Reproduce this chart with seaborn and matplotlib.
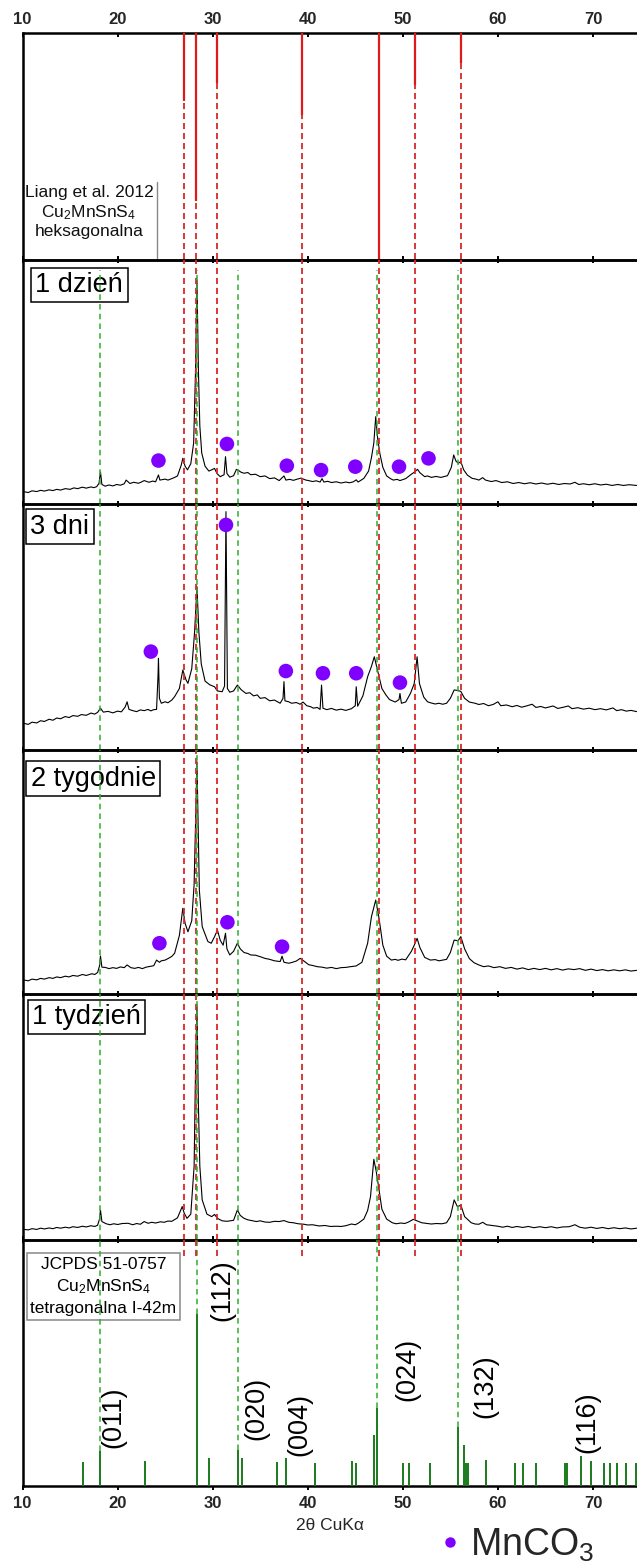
import matplotlib
matplotlib.use("Agg")
import matplotlib.pyplot as plt
import pandas as pd
import seaborn as sns
from matplotlib.lines import Line2D

sns.set_theme(style="white")
plt.rcParams["font.family"] = ["Liberation Sans", "DejaVu Sans"]
plt.rcParams["mathtext.fontset"] = "custom"
plt.rcParams["mathtext.rm"] = "Liberation Sans"
plt.rcParams["mathtext.it"] = "Liberation Sans:italic"
plt.rcParams["mathtext.bf"] = "Liberation Sans:bold"
plt.rcParams["lines.scale_dashes"] = False

# ---------------------------------------------------------------- data
# Reference: Liang et al. 2012, hexagonal Cu2MnSnS4 (2theta, relative intensity)
hex_pos = [26.95, 28.25, 30.5, 39.4, 47.5, 51.3, 56.15]
hex_int = [30, 74, 22, 36, 100, 23, 13]

# Measured patterns: (2theta, intensity in panel units 0-100)
day1 = [(10.2, 5.0), (10.6, 4.7), (11.0, 5.4), (11.5, 5.1), (11.9, 5.6), (12.3, 5.3),
        (12.8, 5.8), (13.2, 5.5), (13.6, 6.0), (14.0, 5.7), (14.5, 6.3), (15.0, 6.0),
        (15.4, 6.6), (15.8, 6.3), (16.3, 6.9), (16.7, 6.5), (17.2, 7.0), (17.5, 6.7),
        (17.8, 7.1), (18.05, 8.5), (18.2, 13.2), (18.35, 8.0), (18.7, 7.3), (19.1, 7.8),
        (19.5, 7.4), (19.9, 8.0), (20.3, 7.7), (20.7, 8.3), (20.9, 9.8), (21.3, 8.4),
        (21.7, 8.9), (22.2, 8.5), (22.5, 9.0), (22.8, 9.6), (23.3, 8.9), (23.7, 9.4),
        (24.0, 9.1), (24.3, 11.9), (24.45, 9.8), (25.0, 10.2), (25.3, 9.8), (25.7, 10.4),
        (26.0, 10.9), (26.3, 11.5), (26.7, 16.0), (26.86, 18.7), (27.1, 15.5), (27.35, 14.0),
        (27.7, 16.5), (28.0, 25.0), (28.2, 55.0), (28.35, 91.8), (28.5, 55.0), (28.65, 32.0),
        (28.85, 20.9), (29.2, 15.5), (29.6, 13.5), (29.9, 14.0), (30.2, 14.6), (30.45, 12.5),
        (30.8, 11.2), (31.2, 12.0), (31.35, 19.4), (31.5, 12.5), (31.8, 11.0), (32.2, 11.6),
        (32.5, 14.2), (32.7, 13.8), (33.0, 13.0), (33.3, 12.6), (33.7, 12.9), (34.0, 12.0),
        (34.5, 12.2), (35.0, 11.2), (35.5, 11.5), (36.0, 10.4), (36.5, 10.7), (37.0, 9.6),
        (37.5, 11.5), (37.7, 9.8), (38.1, 10.1), (38.5, 9.7), (38.9, 10.2), (39.3, 10.6),
        (39.8, 9.8), (40.1, 9.6), (40.5, 9.2), (40.9, 9.5), (41.3, 9.0), (41.5, 10.4),
        (41.7, 9.0), (42.1, 9.3), (42.5, 8.8), (43.0, 9.1), (43.5, 8.6), (44.0, 9.0),
        (44.4, 8.7), (44.8, 9.1), (45.1, 9.9), (45.3, 9.0), (45.9, 10.5), (46.4, 13.5),
        (46.7, 19.0), (46.95, 25.0), (47.15, 35.8), (47.35, 27.0), (47.6, 20.4), (47.9, 15.0),
        (48.3, 11.5), (48.7, 10.4), (49.0, 9.8), (49.4, 10.1), (49.7, 9.6), (50.0, 10.0),
        (50.3, 10.4), (50.9, 12.2), (51.2, 13.0), (51.55, 14.2), (51.8, 12.8), (52.3, 11.2),
        (52.6, 11.5), (53.0, 10.9), (53.5, 11.3), (54.0, 10.9), (54.4, 11.3), (54.7, 11.6),
        (55.1, 15.0), (55.35, 20.1), (55.6, 17.5), (55.85, 16.7), (56.1, 17.4), (56.4, 14.0),
        (56.8, 11.8), (57.3, 10.5), (57.7, 10.2), (58.0, 9.8), (58.4, 10.8), (58.7, 9.8),
        (59.3, 9.2), (59.8, 9.6), (60.4, 8.8), (61.0, 9.1), (61.6, 8.4), (62.2, 8.8),
        (62.8, 8.3), (63.4, 8.7), (64.0, 8.2), (64.6, 8.6), (65.2, 8.1), (65.8, 8.5),
        (66.4, 8.0), (67.0, 8.4), (67.6, 8.2), (68.1, 8.9), (68.5, 8.0), (69.0, 8.3),
        (69.6, 7.9), (70.2, 8.3), (70.8, 7.8), (71.4, 8.1), (72.0, 7.6), (72.6, 8.0),
        (73.2, 7.6), (73.8, 7.9), (74.6, 7.6)]
day1_dots = [(24.3, 17.8), (31.5, 24.6), (37.8, 15.7), (41.4, 13.9), (45.0, 15.3),
             (49.6, 15.3), (52.7, 18.7)]

day3 = [(10.2, 10.8), (10.6, 10.4), (11.0, 11.3), (11.5, 11.0), (11.9, 11.9), (12.3, 11.6),
        (12.8, 12.5), (13.2, 12.1), (13.6, 13.0), (14.0, 12.7), (14.5, 13.6), (14.9, 13.2),
        (15.3, 14.0), (15.8, 13.7), (16.2, 14.4), (16.7, 14.1), (17.2, 15.0), (17.6, 14.6),
        (17.9, 15.3), (18.2, 17.0), (18.5, 15.4), (19.0, 15.7), (19.5, 15.1), (20.0, 15.8),
        (20.4, 15.5), (20.8, 17.5), (21.0, 19.6), (21.2, 16.5), (21.6, 16.0), (22.0, 15.6),
        (22.4, 16.3), (22.8, 16.0), (23.2, 16.5), (23.5, 15.9), (23.8, 16.4), (24.1, 16.5),
        (24.25, 30.0), (24.3, 37.3), (24.4, 21.0), (24.6, 19.0), (25.0, 19.6), (25.3, 19.2),
        (25.7, 20.3), (26.0, 21.7), (26.5, 25.0), (26.86, 32.5), (27.2, 28.5), (27.4, 27.1),
        (27.8, 33.0), (28.1, 48.0), (28.35, 66.4), (28.55, 48.0), (28.8, 35.0), (29.2, 28.0),
        (29.7, 26.5), (30.2, 25.7), (30.5, 24.0), (31.0, 23.7), (31.25, 26.0), (31.4, 96.9),
        (31.55, 25.0), (31.8, 23.5), (32.2, 24.0), (32.6, 26.4), (33.0, 24.5), (33.5, 23.0),
        (33.9, 23.3), (34.3, 22.0), (34.7, 22.4), (35.0, 21.0), (35.5, 21.3), (36.0, 20.0),
        (36.5, 20.3), (37.1, 19.0), (37.4, 21.0), (37.5, 27.8), (37.6, 20.0), (38.0, 19.6),
        (38.3, 19.0), (38.8, 19.3), (39.2, 18.6), (39.5, 19.5), (39.9, 18.0), (40.3, 17.6),
        (40.6, 17.0), (41.0, 17.3), (41.3, 16.5), (41.45, 26.4), (41.6, 17.0), (42.0, 16.4),
        (42.5, 16.9), (43.0, 16.2), (43.5, 16.6), (44.0, 16.1), (44.6, 16.8), (45.0, 18.0),
        (45.1, 25.7), (45.25, 17.8), (45.8, 22.0), (46.3, 29.8), (46.7, 34.0), (47.0, 37.9),
        (47.3, 33.0), (47.8, 25.0), (48.2, 22.5), (48.6, 20.5), (49.2, 19.5), (49.6, 20.5),
        (49.7, 23.0), (49.85, 19.0), (50.3, 19.5), (50.8, 23.0), (51.2, 27.0), (51.5, 37.9),
        (51.75, 27.0), (52.2, 21.5), (52.6, 19.6), (52.9, 19.2), (53.4, 18.7), (53.8, 19.0),
        (54.2, 18.6), (54.6, 19.0), (55.0, 21.0), (55.4, 24.4), (55.8, 24.2), (56.1, 23.8),
        (56.5, 21.0), (57.0, 19.5), (57.6, 19.0), (58.0, 18.5), (58.5, 18.9), (59.0, 18.0),
        (59.5, 18.5), (60.0, 19.6), (60.3, 18.0), (60.9, 18.3), (61.5, 17.6), (62.0, 18.1),
        (62.5, 17.4), (63.0, 17.9), (63.6, 18.6), (64.0, 17.3), (64.5, 17.7), (65.0, 17.1),
        (65.4, 17.5), (65.8, 17.9), (66.3, 16.9), (66.9, 17.4), (67.4, 17.9), (67.8, 16.8),
        (68.4, 17.2), (69.0, 16.6), (69.6, 17.0), (70.2, 16.4), (70.8, 16.8), (71.4, 16.3),
        (72.1, 17.1), (72.5, 16.0), (73.0, 16.4), (73.5, 15.8), (74.0, 16.1), (74.6, 15.6)]
day3_dots = [(23.5, 40.0), (31.4, 91.5), (37.7, 32.1), (41.6, 31.2), (45.1, 31.2),
             (49.7, 27.4)]

week2 = [(10.2, 5.7), (10.6, 5.4), (11.0, 6.1), (11.5, 5.8), (11.9, 6.4), (12.3, 6.1),
         (12.8, 6.7), (13.2, 6.4), (13.6, 7.0), (14.0, 6.7), (14.5, 7.3), (14.9, 7.0),
         (15.3, 7.6), (15.8, 7.3), (16.3, 8.0), (16.7, 7.6), (17.3, 8.3), (17.6, 8.0),
         (17.9, 8.8), (18.1, 11.5), (18.2, 15.6), (18.35, 11.0), (18.7, 10.9), (19.1, 10.4),
         (19.5, 10.8), (19.9, 10.5), (20.3, 11.1), (20.7, 10.8), (21.0, 11.9), (21.4, 10.8),
         (21.8, 10.5), (22.2, 10.9), (22.6, 10.4), (23.0, 11.0), (23.4, 11.3), (23.8, 11.6),
         (24.1, 13.9), (24.4, 13.0), (24.6, 13.6), (25.0, 13.9), (25.3, 14.5), (25.7, 15.4),
         (26.0, 16.7), (26.5, 24.0), (26.86, 35.1), (27.1, 29.0), (27.4, 25.5), (27.8, 30.0),
         (28.05, 45.0), (28.2, 70.0), (28.35, 95.2), (28.5, 65.0), (28.6, 42.6), (28.9, 27.6),
         (29.5, 21.5), (29.85, 20.8), (30.2, 23.5), (30.5, 26.2), (30.8, 22.0), (31.1, 20.0),
         (31.35, 24.9), (31.5, 18.5), (31.8, 16.0), (32.2, 17.5), (32.6, 20.8), (32.9, 18.5),
         (33.3, 17.0), (33.7, 16.6), (34.0, 16.0), (34.5, 15.9), (35.0, 15.3), (35.5, 14.6),
         (36.0, 14.2), (36.5, 13.6), (37.1, 13.3), (37.3, 15.5), (37.5, 13.0), (38.0, 12.6),
         (38.4, 13.0), (38.8, 13.5), (39.2, 14.6), (39.6, 13.5), (40.1, 12.0), (40.5, 11.7),
         (41.0, 11.2), (41.5, 11.0), (42.0, 10.6), (42.5, 10.9), (43.0, 10.4), (43.5, 10.8),
         (44.0, 10.9), (44.5, 11.2), (45.1, 11.5), (45.7, 13.0), (46.3, 20.8), (46.7, 31.7),
         (47.15, 38.5), (47.5, 31.0), (47.9, 20.0), (48.3, 15.5), (48.8, 13.9), (49.2, 14.2),
         (49.5, 13.8), (49.9, 14.3), (50.3, 14.0), (50.9, 17.5), (51.2, 20.0), (51.5, 22.8),
         (51.8, 19.0), (52.3, 15.0), (52.9, 13.9), (53.4, 14.1), (53.8, 13.6), (54.2, 13.9),
         (54.6, 14.2), (55.0, 17.0), (55.4, 22.1), (55.8, 21.8), (56.1, 23.5), (56.5, 18.5),
         (57.0, 14.5), (57.5, 12.8), (58.0, 11.9), (58.5, 11.2), (59.0, 11.5), (59.6, 10.8),
         (60.2, 11.2), (60.8, 10.5), (61.4, 10.9), (62.0, 10.2), (62.6, 10.7), (63.2, 10.0),
         (63.8, 10.5), (64.4, 10.0), (65.0, 10.5), (65.6, 9.9), (66.2, 10.4), (66.8, 9.8),
         (67.4, 10.3), (68.0, 10.0), (68.6, 10.4), (69.2, 9.7), (69.8, 10.2), (70.4, 9.6),
         (71.0, 10.0), (71.6, 9.5), (72.2, 9.9), (72.8, 9.5), (73.4, 9.9), (74.0, 9.4),
         (74.6, 9.7)]
week2_dots = [(24.4, 20.8), (31.55, 29.4), (37.3, 19.4)]

week1 = [(10.2, 4.3), (10.6, 4.1), (11.0, 4.6), (11.5, 4.3), (11.9, 4.8), (12.3, 4.5),
         (12.8, 4.9), (13.2, 4.6), (13.6, 5.1), (14.0, 4.8), (14.5, 5.2), (14.9, 4.9),
         (15.3, 5.4), (15.8, 5.1), (16.3, 5.6), (16.7, 5.3), (17.2, 5.8), (17.6, 5.5),
         (17.9, 6.0), (18.1, 8.5), (18.2, 12.2), (18.35, 7.5), (18.8, 6.6), (19.2, 6.2),
         (19.6, 6.6), (20.0, 6.3), (20.5, 6.7), (21.1, 6.8), (21.6, 6.2), (22.0, 6.7),
         (22.4, 6.4), (22.8, 7.5), (23.2, 6.8), (23.6, 7.2), (24.0, 6.9), (24.5, 7.4),
         (24.9, 7.2), (25.3, 7.7), (25.7, 7.6), (26.3, 9.0), (26.8, 13.6), (27.0, 11.0),
         (27.3, 8.8), (27.7, 10.5), (28.05, 30.0), (28.2, 70.0), (28.35, 95.5), (28.5, 55.0),
         (28.65, 30.0), (28.9, 16.3), (29.4, 10.5), (29.9, 9.5), (30.2, 10.4), (30.5, 8.8),
         (31.0, 7.8), (31.5, 7.6), (32.2, 8.0), (32.6, 12.2), (32.9, 10.0), (33.3, 8.8),
         (33.7, 8.2), (34.1, 7.9), (34.6, 7.5), (35.0, 7.8), (35.5, 7.3), (36.0, 7.2),
         (36.5, 7.6), (37.0, 7.5), (37.5, 7.9), (38.0, 7.2), (38.5, 7.0), (39.0, 6.6),
         (39.6, 6.4), (40.0, 6.1), (40.5, 6.2), (41.2, 5.7), (41.8, 5.9), (42.4, 5.5),
         (43.0, 5.6), (43.5, 5.5), (44.0, 5.8), (44.6, 6.5), (45.0, 6.2), (45.3, 6.8),
         (45.9, 8.5), (46.3, 12.0), (46.6, 17.6), (46.95, 32.8), (47.2, 28.0), (47.45, 21.7),
         (47.8, 12.5), (48.3, 8.5), (48.9, 7.0), (49.3, 6.6), (49.8, 6.9), (50.2, 6.7),
         (50.6, 7.3), (51.1, 8.4), (51.6, 7.6), (52.0, 7.0), (52.4, 6.8), (53.0, 6.5),
         (53.5, 6.7), (54.1, 6.6), (54.6, 7.0), (55.0, 9.5), (55.4, 16.3), (55.75, 13.5),
         (56.1, 14.2), (56.5, 9.5), (57.2, 7.0), (57.6, 6.5), (58.0, 6.4), (58.4, 7.2),
         (58.8, 6.2), (59.4, 5.9), (60.0, 5.6), (60.5, 5.2), (61.0, 5.6), (61.5, 5.1),
         (62.0, 5.5), (62.6, 5.1), (63.2, 5.5), (63.8, 5.0), (64.4, 5.4), (65.0, 5.0),
         (65.6, 5.4), (66.2, 4.9), (66.8, 5.3), (67.5, 5.4), (68.1, 6.2), (68.6, 5.2),
         (69.2, 4.8), (69.8, 5.2), (70.4, 4.7), (71.0, 5.1), (71.6, 4.6), (72.2, 5.0),
         (72.8, 4.6), (73.4, 4.9), (74.0, 4.5), (74.6, 4.8)]

# Reference: JCPDS 51-0757, tetragonal Cu2MnSnS4 I-42m
jcpds_pos = [16.39, 18.1, 22.9, 28.35, 29.63, 32.7, 33.1, 36.8, 37.7, 40.74,
             44.7, 45.1, 47.0, 47.28, 50.05, 50.7, 52.9, 55.83, 56.4, 56.64,
             56.89, 58.75, 61.8, 62.6, 64.0, 67.06, 67.27, 68.7, 69.76, 71.2,
             71.8, 72.5, 73.5, 74.5]
jcpds_int = [9.9, 14.4, 10.0, 69.9, 11.3, 14.6, 11.3, 9.9, 11.3, 9.5,
             10.0, 9.5, 20.7, 31.6, 9.2, 9.2, 9.2, 24.0, 16.5, 9.3,
             9.3, 10.7, 9.5, 9.3, 9.5, 9.5, 9.3, 12.1, 10.3, 9.3,
             9.3, 9.3, 9.3, 9.3]
jcpds_marked = [18.1, 28.35, 32.7, 47.28, 55.83]
hkl_labels = ["(011)", "(112)", "(020)", "(004)", "(024)", "(132)", "(116)"]
hkl_x = [19.6, 31.05, 34.55, 39.16, 50.48, 58.69, 69.36]
hkl_y = [28.0, 79.7, 31.7, 24.8, 47.2, 40.4, 26.1]

panel_names = ["1 dzień", "3 dni", "2 tygodnie", "1 tydzień"]
x_ticks = [10, 20, 30, 40, 50, 60, 70]

# ---------------------------------------------------------------- styling
W, H = 637, 1566
X0 = 22.5                      # left edge of the panels, px
XLIM = (10, 74.63)
edges = [33, 260, 504, 750, 994, 1240, 1486]   # panel borders, px from top
RED = "#e01a1a"
RED_D = "#d42a2a"
GREEN_STICK = "#1b7a1b"
GREEN_D = "#2fae2f"
VIOLET = "#8000ff"
DASH_R = (0, (4.4, 2.8))
DASH_G = (0, (4.0, 3.0))

fig = plt.figure(figsize=(W / 100, H / 100), dpi=100)
fig.patch.set_facecolor("white")


def make_axes(i):
    top, bot = edges[i], edges[i + 1]
    ax = fig.add_axes([X0 / W, 1 - bot / H, 1 - X0 / W, (bot - top) / H])
    ax.set_facecolor("none")
    ax.set_xlim(*XLIM)
    ax.set_xticks(x_ticks)
    ax.set_yticks([])
    for side in ("left", "top", "bottom"):
        ax.spines[side].set_visible(True)
        ax.spines[side].set_color("black")
        ax.spines[side].set_linewidth(1.8)
    ax.spines["right"].set_visible(False)
    ax.tick_params(axis="x", which="both", top=True, bottom=True,
                   direction="inout", length=4, width=1.4, color="black",
                   labeltop=False, labelbottom=False)
    ax.grid(False)
    return ax


def ax_frac(i, xp, yp):
    top, bot = edges[i], edges[i + 1]
    return (xp - X0) / (W - X0), (bot - yp) / (bot - top)


axes = [make_axes(i) for i in range(6)]

# ---- top panel: hexagonal reference sticks hanging from the top
ax = axes[0]
ax.set_ylim(100, 0)
ax.vlines(hex_pos, 0, 100, colors=RED_D, linewidth=1.3, linestyles=DASH_R, zorder=3)
ax.vlines(hex_pos, 0, hex_int, colors=RED, linewidth=1.6, zorder=4)
ax.tick_params(axis="x", top=True, direction="in", length=3, labeltop=True,
               labelsize=12, pad=4)
for lab in ax.get_xticklabels():
    lab.set_fontweight("bold")
tx, ty = ax_frac(0, 89, 212)
ax.text(tx, ty, "Liang et al. 2012\nCu$_2$MnSnS$_4$\nheksagonalna",
        transform=ax.transAxes, ha="center", va="center", ma="center",
        fontsize=12.5, linespacing=1.2, color="#111111", zorder=2)
lx, ly1 = ax_frac(0, 156.5, 182)
_, ly2 = ax_frac(0, 156.5, 258)
ax.plot([lx, lx], [ly1, ly2], transform=ax.transAxes, color="#888888", lw=1.0)

# ---- measured patterns
series = [(day1, day1_dots), (day3, day3_dots), (week2, week2_dots), (week1, [])]
label_centres = [(79.3, 285.0), (59.9, 526.5), (93.4, 778.5), (86.3, 1017.0)]

for k, (trace, dots) in enumerate(series):
    ax = axes[k + 1]
    ax.set_ylim(0, 100)
    df = pd.DataFrame(trace, columns=["two_theta", "intensity"])
    sns.lineplot(data=df, x="two_theta", y="intensity", ax=ax, color="black",
                 linewidth=0.8, sort=False, estimator=None, zorder=3)
    ax.vlines(hex_pos, 0, 100, colors=RED_D, linewidth=1.3, linestyles=DASH_R, zorder=4)
    g_top = 96 if k == 0 else 100
    ax.vlines(jcpds_marked, 0, g_top, colors=GREEN_D, linewidth=1.1,
              linestyles=DASH_G, zorder=4)
    if dots:
        dd = pd.DataFrame(dots, columns=["two_theta", "intensity"])
        sns.scatterplot(data=dd, x="two_theta", y="intensity", ax=ax, color=VIOLET,
                        s=110, edgecolor="none", zorder=6, legend=False)
    ax.set_xlabel("")
    ax.set_ylabel("")
    cx, cy = ax_frac(k + 1, *label_centres[k])
    ax.text(cx, cy, panel_names[k], transform=ax.transAxes, ha="center", va="center",
            fontsize=19.5, color="black", zorder=2,
            bbox=dict(boxstyle="square,pad=0.16", fc="white", ec="black", lw=1.1))

# ---- bottom panel: tetragonal reference sticks
ax = axes[5]
ax.set_ylim(0, 100)
marked_int = [jcpds_int[jcpds_pos.index(p)] for p in jcpds_marked]
ax.vlines(jcpds_marked, marked_int, 100, colors=GREEN_D, linewidth=1.1,
          linestyles=DASH_G, zorder=4)
ax.vlines(hex_pos, 93.5, 100, colors=RED_D, linewidth=1.3, linestyles=DASH_R, zorder=4)
ax.vlines(jcpds_pos, 0, jcpds_int, colors=GREEN_STICK, linewidth=1.4, zorder=3)
for lab, hx, hy in zip(hkl_labels, hkl_x, hkl_y):
    ax.text(hx, hy, lab, rotation=90, ha="center", va="center", fontsize=19.5,
            color="black", zorder=5)
cx, cy = ax_frac(5, 103.5, 1286.5)
ax.text(cx, cy, "JCPDS 51-0757\nCu$_2$MnSnS$_4$\ntetragonalna I-42m",
        transform=ax.transAxes, ha="center", va="center", ma="center",
        fontsize=12.5, linespacing=1.4, color="black", zorder=2,
        bbox=dict(boxstyle="square,pad=0.2", fc="white", ec="#888888", lw=1.1))
ax.tick_params(axis="x", bottom=True, direction="out", length=3, labelbottom=True,
               labelsize=12, pad=4)
for lab in ax.get_xticklabels():
    lab.set_fontweight("bold")
ax.set_xlabel("2θ CuKα", fontsize=12.5, labelpad=5)

# ---- MnCO3 marker key
handle = Line2D([0], [0], marker="o", ls="none", color=VIOLET, markersize=7.5,
                markeredgecolor="none")
fig.legend(handles=[handle], labels=["MnCO$_3$"], loc="center left",
           bbox_to_anchor=(440.5 / W, 1 - 1545 / H), frameon=False, fontsize=27,
           handlelength=0.5, handletextpad=0.28, borderpad=0, borderaxespad=0)

fig.savefig("out.png", dpi=100, facecolor="white")
